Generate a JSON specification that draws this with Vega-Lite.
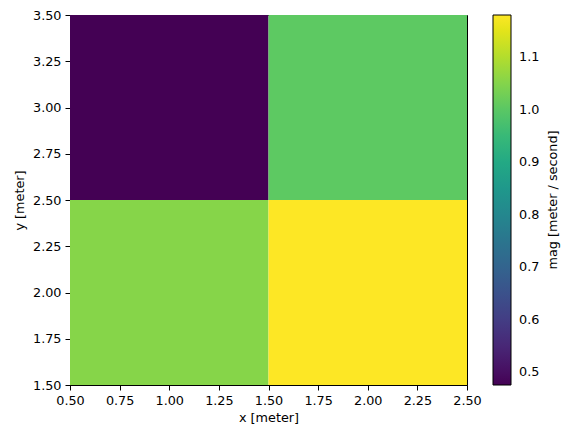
{
  "$schema": "https://vega.github.io/schema/vega-lite/v6.json",
  "autosize": {"type": "none"},
  "width": 397,
  "height": 370,
  "padding": {"left": 70, "top": 15, "right": 104, "bottom": 53},
  "background": "white",
  "config": {
    "view": {"stroke": "black", "strokeWidth": 1},
    "font": "DejaVu Sans",
    "axis": {
      "grid": false,
      "domainColor": "black",
      "tickColor": "black",
      "labelColor": "black",
      "titleColor": "black",
      "labelFont": "DejaVu Sans",
      "titleFont": "DejaVu Sans",
      "labelFontSize": 12.8,
      "titleFontSize": 12.8,
      "titleFontWeight": "normal",
      "tickSize": 5,
      "labelPadding": 4,
      "labelFlush": false
    },
    "legend": {
      "labelFont": "DejaVu Sans",
      "titleFont": "DejaVu Sans",
      "labelFontSize": 12.8,
      "titleFontSize": 12.8,
      "titleFontWeight": "normal",
      "labelColor": "black",
      "titleColor": "black"
    }
  },
  "data": {
    "values": [
      {"x0": 0.5, "x1": 1.5, "y0": 2.5, "y1": 3.5, "mag": 0.476},
      {"x0": 1.5, "x1": 2.5, "y0": 2.5, "y1": 3.5, "mag": 1.004},
      {"x0": 0.5, "x1": 1.5, "y0": 1.5, "y1": 2.5, "mag": 1.053},
      {"x0": 1.5, "x1": 2.5, "y0": 1.5, "y1": 2.5, "mag": 1.18}
    ]
  },
  "mark": {"type": "rect"},
  "encoding": {
    "x": {
      "field": "x0", "type": "quantitative",
      "scale": {"domain": [0.5, 2.5], "nice": false, "zero": false},
      "axis": {"values": [0.5, 0.75, 1.0, 1.25, 1.5, 1.75, 2.0, 2.25, 2.5], "format": ".2f", "title": "x [meter]", "titlePadding": 5}
    },
    "x2": {"field": "x1"},
    "y": {
      "field": "y0", "type": "quantitative",
      "scale": {"domain": [1.5, 3.5], "nice": false, "zero": false},
      "axis": {"values": [1.5, 1.75, 2.0, 2.25, 2.5, 2.75, 3.0, 3.25, 3.5], "format": ".2f", "title": "y [meter]", "titlePadding": 6}
    },
    "y2": {"field": "y1"},
    "color": {
      "field": "mag", "type": "quantitative",
      "scale": {"scheme": "viridis", "domain": [0.476, 1.18], "nice": false, "zero": false},
      "legend": {
        "orient": "none",
        "legendX": 423,
        "legendY": 0,
        "direction": "vertical",
        "gradientLength": 370,
        "gradientThickness": 18,
        "gradientStrokeColor": "black",
        "gradientStrokeWidth": 1,
        "values": [0.5, 0.6, 0.7, 0.8, 0.9, 1.0, 1.1],
        "format": ".1f",
        "labelOverlap": false,
        "labelOffset": 8,
        "tickCount": 7,
        "title": "mag [meter / second]",
        "titleOrient": "right",
        "titleAnchor": "middle",
        "titlePadding": 8,
        "encode": {"title": {"update": {"angle": {"value": 270}, "baseline": {"value": "top"}}}}
      }
    }
  }
}
